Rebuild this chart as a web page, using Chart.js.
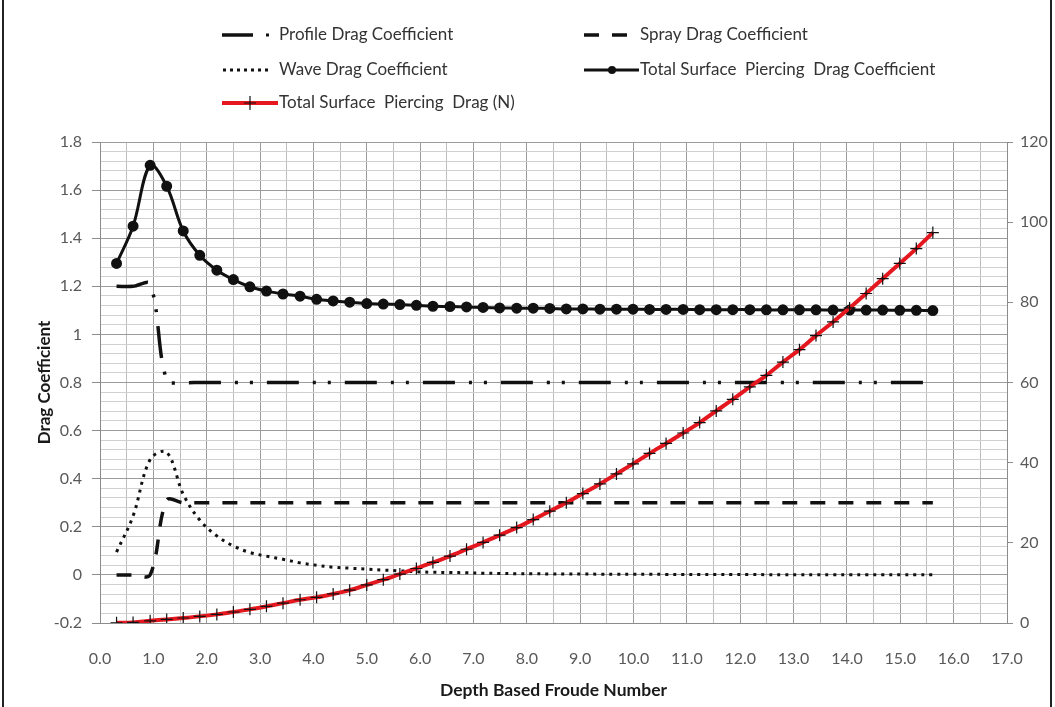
<!DOCTYPE html>
<html>
<head>
<meta charset="utf-8">
<title>Surface Piercing Drag</title>
<script src="https://cdn.jsdelivr.net/npm/chart.js@4.4.1/dist/chart.umd.min.js"></script>
<style>
  html, body { margin: 0; padding: 0; background: #fff; }
  #wrap { position: relative; width: 1055px; height: 707px; }
</style>
</head>
<body>
<div id="wrap"><canvas id="dragChart" width="1055" height="707"></canvas></div>
<script>
// Depth based Froude number of each run
const froude = [0.31, 0.62, 0.94, 1.25, 1.56, 1.87, 2.19, 2.50, 2.81, 3.12,
  3.43, 3.75, 4.06, 4.37, 4.68, 5.00, 5.31, 5.62, 5.93, 6.24,
  6.56, 6.87, 7.18, 7.49, 7.81, 8.12, 8.43, 8.74, 9.05, 9.37,
  9.68, 9.99, 10.30, 10.61, 10.93, 11.24, 11.55, 11.86, 12.18, 12.49,
  12.80, 13.11, 13.42, 13.74, 14.05, 14.36, 14.67, 14.99, 15.30, 15.61];

const profileCd = [1.2, 1.2, 1.21, 0.81, 0.8, 0.8, 0.8, 0.8, 0.8, 0.8,
  0.8, 0.8, 0.8, 0.8, 0.8, 0.8, 0.8, 0.8, 0.8, 0.8,
  0.8, 0.8, 0.8, 0.8, 0.8, 0.8, 0.8, 0.8, 0.8, 0.8,
  0.8, 0.8, 0.8, 0.8, 0.8, 0.8, 0.8, 0.8, 0.8, 0.8,
  0.8, 0.8, 0.8, 0.8, 0.8, 0.8, 0.8, 0.8, 0.8, 0.8];

const sprayCd = [0, 0, 0, 0.31, 0.3, 0.3, 0.3, 0.3, 0.3, 0.3,
  0.3, 0.3, 0.3, 0.3, 0.3, 0.3, 0.3, 0.3, 0.3, 0.3,
  0.3, 0.3, 0.3, 0.3, 0.3, 0.3, 0.3, 0.3, 0.3, 0.3,
  0.3, 0.3, 0.3, 0.3, 0.3, 0.3, 0.3, 0.3, 0.3, 0.3,
  0.3, 0.3, 0.3, 0.3, 0.3, 0.3, 0.3, 0.3, 0.3, 0.3];

const waveCd = [0.095, 0.245, 0.48, 0.51, 0.335, 0.228, 0.162, 0.12, 0.093, 0.078,
  0.065, 0.05, 0.04, 0.032, 0.028, 0.024, 0.02, 0.017, 0.013, 0.011,
  0.01, 0.009, 0.007, 0.006, 0.005, 0.005, 0.004, 0.004, 0.004, 0.003,
  0.003, 0.003, 0.003, 0.002, 0.002, 0.002, 0.002, 0.002, 0.002, 0.001,
  0.001, 0.001, 0.001, 0.001, 0.001, 0.001, 0.001, 0.001, 0.001, 0.001];

const totalCd = [1.295, 1.45, 1.703, 1.616, 1.43, 1.329, 1.267, 1.228, 1.198, 1.18,
  1.168, 1.159, 1.146, 1.139, 1.134, 1.128, 1.126, 1.124, 1.121, 1.117,
  1.116, 1.114, 1.112, 1.110, 1.109, 1.109, 1.108, 1.106, 1.106, 1.105,
  1.105, 1.105, 1.104, 1.104, 1.104, 1.103, 1.103, 1.103, 1.103, 1.102,
  1.102, 1.102, 1.102, 1.101, 1.101, 1.101, 1.101, 1.100, 1.100, 1.099];

// total drag force in newtons (right axis)
const totalDragN = [0.04, 0.15, 0.55, 0.9, 1.25, 1.65, 2.15, 2.75, 3.4, 4.15,
  4.95, 5.8, 6.4, 7.25, 8.2, 9.5, 10.8, 12.2, 13.6, 15.1,
  16.7, 18.4, 20.1, 21.9, 23.8, 25.8, 27.9, 30.0, 32.3, 34.7,
  37.2, 39.7, 42.3, 44.8, 47.4, 50.0, 52.9, 55.8, 58.9, 61.8,
  65.1, 68.2, 71.7, 75.1, 78.6, 82.2, 85.9, 89.7, 93.4, 97.4];

const seriesNames = ['Profile Drag Coefficient', 'Spray Drag Coefficient', 'Wave Drag Coefficient',
  'Total Surface  Piercing  Drag Coefficient', 'Total Surface  Piercing  Drag (N)'];

const xRange = [0, 17];
const cdRange = [-0.2, 1.8];
const forceRange = [0, 120];

const FONT = 'Lato, Carlito, "Open Sans", sans-serif';
const RED = 'rgb(228, 22, 30)';

const pts = (ys) => froude.map((x, i) => ({ x: x, y: ys[i] }));

const isMult = (v, step) => Math.abs(v / step - Math.round(v / step)) < 1e-6;

// legend laid out in two columns above the plot
const legendPlugin = {
  id: 'topLegend',
  afterDraw(chart) {
    const ctx = chart.ctx;
    ctx.save();
    ctx.font = '17px ' + FONT;
    ctx.fillStyle = '#333';
    ctx.textBaseline = 'middle';
    ctx.lineCap = 'butt';

    // profile: long dash + dot
    ctx.strokeStyle = '#111';
    ctx.lineWidth = 3.5;
    ctx.beginPath(); ctx.moveTo(222, 35); ctx.lineTo(253, 35); ctx.stroke();
    ctx.fillStyle = '#111';
    ctx.fillRect(266, 33.5, 3, 3);
    ctx.fillStyle = '#333';
    ctx.fillText(seriesNames[0], 279, 35);

    // spray: two dashes
    ctx.strokeStyle = '#111';
    ctx.beginPath();
    ctx.moveTo(584, 35); ctx.lineTo(599, 35);
    ctx.moveTo(612, 35); ctx.lineTo(627, 35);
    ctx.stroke();
    ctx.fillText(seriesNames[1], 640, 35);

    // wave: dotted
    ctx.fillStyle = '#111';
    for (let x = 223; x < 266; x += 7) ctx.fillRect(x, 68.5, 3, 3);
    ctx.fillStyle = '#333';
    ctx.fillText(seriesNames[2], 279, 70);

    // total coefficient: line with round marker
    ctx.lineWidth = 3;
    ctx.beginPath(); ctx.moveTo(584, 70); ctx.lineTo(639, 70); ctx.stroke();
    ctx.fillStyle = '#111';
    ctx.beginPath(); ctx.arc(612, 70, 4, 0, Math.PI * 2); ctx.fill();
    ctx.fillStyle = '#333';
    ctx.fillText(seriesNames[3], 640, 70);

    // total force: red line with cross marker
    ctx.strokeStyle = RED;
    ctx.lineWidth = 4;
    ctx.beginPath(); ctx.moveTo(222, 103); ctx.lineTo(278, 103); ctx.stroke();
    ctx.strokeStyle = '#111';
    ctx.lineWidth = 1.2;
    ctx.beginPath();
    ctx.moveTo(250, 96); ctx.lineTo(250, 110);
    ctx.moveTo(244, 103); ctx.lineTo(256, 103);
    ctx.stroke();
    ctx.fillStyle = '#333';
    ctx.fillText(seriesNames[4], 279, 103);

    // outer frame
    ctx.strokeStyle = '#222';
    ctx.lineWidth = 2;
    ctx.beginPath();
    ctx.moveTo(3, 0); ctx.lineTo(3, 707);
    ctx.moveTo(1051, 0); ctx.lineTo(1051, 707);
    ctx.stroke();
    ctx.restore();
  }
};

const ctx = document.getElementById('dragChart');

new Chart(ctx, {
  type: 'line',
  data: {
    datasets: [
      {
        label: seriesNames[4],
        data: pts(totalDragN),
        yAxisID: 'yN',
        borderColor: RED,
        borderWidth: 4,
        pointStyle: 'cross',
        pointRadius: 6,
        pointBorderColor: '#111',
        pointBorderWidth: 1.2,
        tension: 0.35,
        order: 0
      },
      {
        label: seriesNames[3],
        data: pts(totalCd),
        yAxisID: 'yCd',
        borderColor: '#111',
        borderWidth: 3,
        pointStyle: 'circle',
        pointRadius: 4,
        pointBackgroundColor: '#111',
        pointBorderColor: '#111',
        tension: 0.35,
        order: 1
      },
      {
        label: seriesNames[0],
        data: pts(profileCd),
        yAxisID: 'yCd',
        borderColor: '#111',
        borderWidth: 3.5,
        borderDash: [32, 14, 3, 12, 3, 14],
        pointRadius: 0,
        tension: 0.35,
        order: 2
      },
      {
        label: seriesNames[1],
        data: pts(sprayCd),
        yAxisID: 'yCd',
        borderColor: '#111',
        borderWidth: 3.5,
        borderDash: [15, 13],
        pointRadius: 0,
        tension: 0.35,
        order: 3
      },
      {
        label: seriesNames[2],
        data: pts(waveCd),
        yAxisID: 'yCd',
        borderColor: '#111',
        borderWidth: 3,
        borderDash: [3, 5],
        pointRadius: 0,
        tension: 0.35,
        order: 4
      }
    ]
  },
  options: {
    responsive: false,
    animation: false,
    events: [],
    layout: { padding: { left: 0, right: 0, top: 142, bottom: 0 } },
    plugins: {
      legend: { display: false },
      tooltip: { enabled: false }
    },
    scales: {
      x: {
        type: 'linear',
        min: xRange[0],
        max: xRange[1],
        afterFit: (s) => { s.height = 84; },
        border: { color: '#8c8c8c' },
        grid: {
          drawTicks: false,
          color: (c) => isMult(c.tick.value, 1) ? '#9c9c9c' : '#bdbdbd'
        },
        ticks: {
          stepSize: 0.5,
          autoSkip: false,
          maxRotation: 0,
          padding: 26,
          color: '#595959',
          font: { family: FONT, size: 16 },
          callback: (v) => isMult(v, 1) ? v.toFixed(1) : ''
        },
        title: {
          display: true,
          text: 'Depth Based Froude Number',
          color: '#1a1a1a',
          font: { family: FONT, size: 17.5, weight: 'bold' },
          padding: { top: 0, bottom: 6 }
        }
      },
      yCd: {
        type: 'linear',
        position: 'left',
        min: cdRange[0],
        max: cdRange[1],
        afterFit: (s) => { s.width = 100; },
        border: { color: '#8c8c8c' },
        grid: {
          tickLength: 8,
          color: (c) => isMult(c.tick.value, 0.2) ? '#9c9c9c' : '#d0d0d0',
          tickColor: (c) => isMult(c.tick.value, 0.2) ? '#8c8c8c' : 'rgba(0,0,0,0)'
        },
        ticks: {
          stepSize: 0.04,
          autoSkip: false,
          padding: 10,
          color: '#595959',
          font: { family: FONT, size: 16 },
          callback: (v) => isMult(v, 0.2) ? String(Math.round(v * 10) / 10) : ''
        },
        title: {
          display: true,
          text: 'Drag Coefficient',
          color: '#1a1a1a',
          font: { family: FONT, size: 17, weight: 'bold' },
          padding: { top: 34, bottom: 0 }
        }
      },
      yN: {
        type: 'linear',
        position: 'right',
        min: forceRange[0],
        max: forceRange[1],
        afterFit: (s) => { s.width = 48; },
        border: { color: '#8c8c8c' },
        grid: {
          drawOnChartArea: false,
          tickLength: 6,
          tickColor: '#8c8c8c'
        },
        ticks: {
          stepSize: 20,
          padding: 7,
          color: '#595959',
          font: { family: FONT, size: 16 }
        }
      }
    }
  },
  plugins: [legendPlugin]
});
</script>
</body>
</html>
